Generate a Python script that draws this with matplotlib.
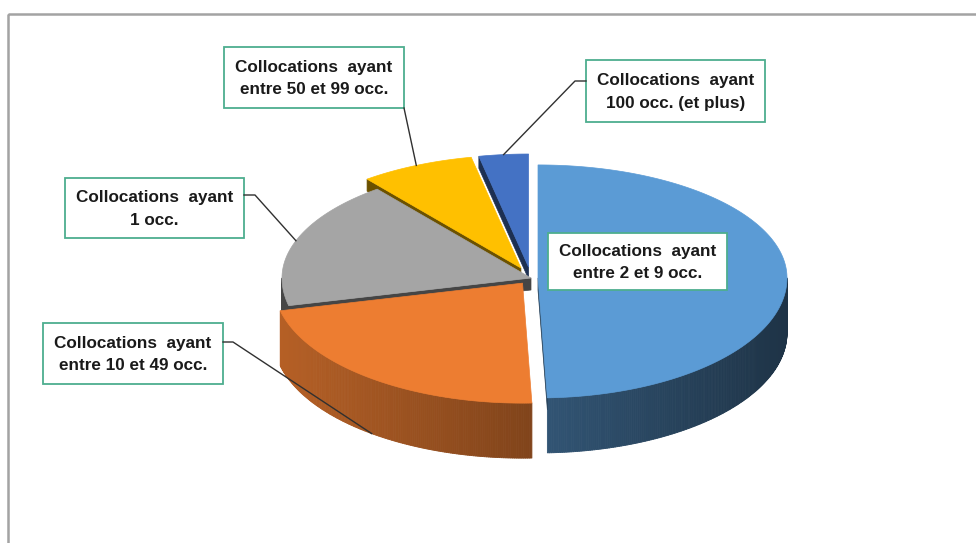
import numpy as np
import matplotlib
matplotlib.use("Agg")
import matplotlib.pyplot as plt
from matplotlib.patches import Polygon, Rectangle
from matplotlib.collections import PolyCollection
from matplotlib.colors import to_rgb

# ---- data (share of collocations, %) ----
categories = [
    "Collocations  ayant\nentre 2 et 9 occ.",
    "Collocations  ayant\nentre 10 et 49 occ.",
    "Collocations  ayant\n1 occ.",
    "Collocations  ayant\nentre 50 et 99 occ.",
    "Collocations  ayant\n100 occ. (et plus)",
]
values = [49.4, 21.9, 18.1, 7.4, 3.2]
colors = ["#5B9BD5", "#ED7D31", "#A5A5A5", "#FFC000", "#4472C4"]
explode = [7, 14, 0, 24, 24]
wall_gain = [1.0, 1.0, 0.55, 1.0, 1.0]

# ---- layout (pixel space of the 976x543 figure) ----
W, H = 976, 543
CX, CY = 531, 278          # pie centre
A = 249                    # horizontal radius
B_BACK, B_FRONT = 113, 120 # vertical radii (back / front half, perspective)
DEPTH = 55
FACE_DEPTH = 12
KK = 0.46

fig = plt.figure(figsize=(W / 100, H / 100), dpi=100)
ax = fig.add_axes([0, 0, 1, 1])
ax.set_xlim(0, W)
ax.set_ylim(H, 0)
ax.axis("off")

# outer chart border
ax.add_patch(Rectangle((8, 14), 990, 560, fill=False, edgecolor="#A3A3A3", lw=1.8, zorder=0))


def shade(c, f):
    r, g, b = to_rgb(c)
    return (min(r * f, 1), min(g * f, 1), min(b * f, 1))


def proj(th, off, r=1.0, z=0.0):
    th = np.asarray(th, dtype=float)
    t = np.radians(th)
    b = np.where(np.cos(t) >= 0, B_BACK, B_FRONT)
    x = CX + off[0] + r * A * np.sin(t)
    y = CY + off[1] - r * b * np.cos(t) + z
    return x, y


total = sum(values)
angles = np.concatenate([[0], np.cumsum(values) / total * 360.0])
slices = []
for i, v in enumerate(values):
    t1, t2 = angles[i], angles[i + 1]
    tm = 0.5 * (t1 + t2)
    rm = np.radians(tm)
    off = (explode[i] * np.sin(rm), -explode[i] * np.cos(rm) * KK)
    slices.append((i, t1, t2, tm, off))

# painter's order: back to front
order = sorted(slices, key=lambda s: -np.cos(np.radians(s[3])))

z = 1
for i, t1, t2, tm, off in order:
    col = colors[i]
    ax0, ay0 = CX + off[0], CY + off[1]
    # outer wall (front half only)
    lo, hi = max(t1, 90), min(t2, 270)
    if hi > lo:
        ths = np.linspace(lo, hi, int((hi - lo) * 2) + 2)
        xs, ys = proj(ths, off)
        polys, fcs = [], []
        for k in range(len(ths) - 1):
            polys.append([(xs[k], ys[k]), (xs[k + 1], ys[k + 1]),
                          (xs[k + 1], ys[k + 1] + DEPTH), (xs[k], ys[k] + DEPTH)])
            tt = np.radians(0.5 * (ths[k] + ths[k + 1]))
            f = (0.55 + 0.22 * (-np.sin(tt))) * wall_gain[i]
            fcs.append(shade(col, f))
        ax.add_collection(PolyCollection(polys, facecolors=fcs, edgecolors=fcs,
                                         linewidths=0.6, zorder=z))
    # radial faces facing the viewer
    for th, nrm in ((t1, t1 - 90), (t2, t2 + 90)):
        if np.cos(np.radians(nrm)) < -0.01:
            ex, ey = proj(th, off)
            ex, ey = float(ex), float(ey)
            face = [(ax0, ay0), (ex, ey), (ex, ey + FACE_DEPTH), (ax0, ay0 + FACE_DEPTH)]
            ax.add_patch(Polygon(face, closed=True, facecolor=shade(col, 0.42),
                                 edgecolor=shade(col, 0.42), lw=0.5, zorder=z + 0.1))
    # top surface
    ths = np.linspace(t1, t2, max(int((t2 - t1) * 2), 4))
    xs, ys = proj(ths, off)
    pts = [(ax0, ay0)] + list(zip(xs, ys))
    ax.add_patch(Polygon(pts, closed=True, facecolor=col, edgecolor=col, lw=0.5, zorder=z + 0.2))
    z += 1

# ---- labels ----
FONT = dict(family=["Liberation Sans", "DejaVu Sans"], fontsize=12.3, fontweight="bold", color="#1a1a1a")
BOX_EC = "#4DAE8F"

# box rectangles (x0, y0, x1, y1) per category
boxes = {
    0: (548, 233, 727, 290),
    1: (43, 323, 223, 384),
    2: (65, 178, 244, 238),
    3: (224, 47, 404, 108),
    4: (586, 60, 765, 122),
}

for i, (x0, y0, x1, y1) in boxes.items():
    ax.add_patch(Rectangle((x0, y0), x1 - x0, y1 - y0, facecolor="white",
                           edgecolor=BOX_EC, lw=1.3, zorder=50))
    ax.text((x0 + x1) / 2, (y0 + y1) / 2 + 1, categories[i], ha="center", va="center",
            linespacing=1.6, zorder=51, **FONT)

# ---- leader lines (to slice edges at the slice bisector) ----
def edge_point(i, bottom=False):
    _, t1, t2, tm, off = slices[i]
    x, y = proj(tm, off)
    return float(x), float(y) + (DEPTH if bottom else 0)

LC = "#303030"
# 50-99
x0, y0, x1, y1 = boxes[3]
ex, ey = edge_point(3)
ax.plot([x1, ex], [y1, ey], color=LC, lw=1.0, zorder=60)
# 100+
x0, y0, x1, y1 = boxes[4]
ex, ey = edge_point(4)
ax.plot([x0, x0 - 11, ex], [y0 + 21, y0 + 21, ey], color=LC, lw=1.0, zorder=60)
# 1 occ
x0, y0, x1, y1 = boxes[2]
ex, ey = edge_point(2)
ax.plot([x1, x1 + 11, ex], [y0 + 17, y0 + 17, ey], color=LC, lw=1.0, zorder=60)
# 10-49
x0, y0, x1, y1 = boxes[1]
ex, ey = edge_point(1, bottom=True)
ax.plot([x1, x1 + 10, ex], [y0 + 19, y0 + 19, ey], color=LC, lw=1.0, zorder=60)

fig.savefig("out.png", dpi=100)
